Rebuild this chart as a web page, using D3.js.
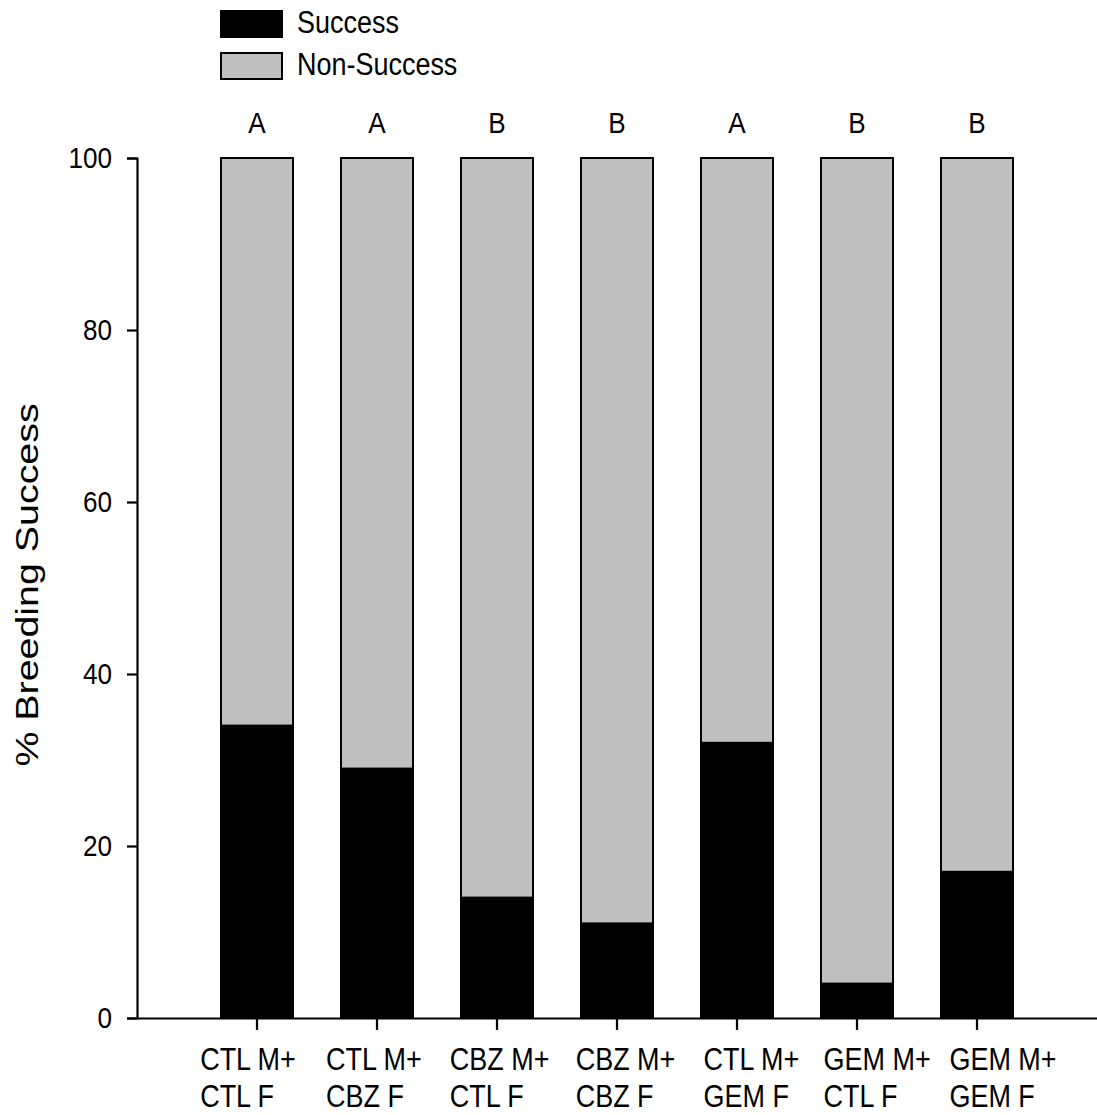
<!DOCTYPE html>
<html>
<head>
<meta charset="utf-8">
<script src="https://cdn.jsdelivr.net/npm/d3@7"></script>
<style>
  html, body { margin: 0; padding: 0; background: #fff; }
  svg { display: block; }
  text { font-family: "Liberation Sans", Arial, sans-serif; fill: #000; }
</style>
</head>
<body>
<svg id="chart" width="1097" height="1115"></svg>
<script>
// Pairing groups (male + female treatment)
const groupLine1 = ["CTL M+", "CTL M+", "CBZ M+", "CBZ M+", "CTL M+", "GEM M+", "GEM M+"];
const groupLine2 = ["CTL F", "CBZ F", "CTL F", "CBZ F", "GEM F", "CTL F", "GEM F"];
const categories = groupLine1.map((d, i) => d + " " + groupLine2[i]);

// Percent of pairs with / without breeding success
const successValues = [34, 29, 14, 11, 32, 4, 17];
const nonSuccessValues = [66, 71, 86, 89, 68, 96, 83];

// Statistical grouping letters
const sigLetters = ["A", "A", "B", "B", "A", "B", "B"];

const yTicks = [0, 20, 40, 60, 80, 100];
const seriesNames = ["Success", "Non-Success"];
const seriesColors = ["#000000", "#c0c0c0"];

const svg = d3.select("#chart");
const SX = 0.87;   // narrow letterforms

const x = d3.scaleBand()
  .domain(categories)
  .range([137, 1097])
  .paddingInner(0.4)
  .paddingOuter(0.7);

const y = d3.scaleLinear().domain([0, 100]).range([1018, 158]);

// positions of the two-line group labels below the axis
const xLabel = d3.scalePoint().domain(categories).range([248, 1003]);

// stacked data
const rows = categories.map((c, i) => ({
  cat: c,
  Success: successValues[i],
  "Non-Success": nonSuccessValues[i]
}));
const stacked = d3.stack().keys(seriesNames)(rows);

// bars
svg.append("g")
  .selectAll("g")
  .data(stacked)
  .join("g")
  .attr("fill", (d, i) => seriesColors[i])
  .selectAll("rect")
  .data(d => d)
  .join("rect")
  .attr("x", d => x(d.data.cat))
  .attr("width", x.bandwidth())
  .attr("y", d => y(d[1]))
  .attr("height", d => y(d[0]) - y(d[1]))
  .attr("stroke", "#000")
  .attr("stroke-width", 2);

// y axis
const yAxis = svg.append("g")
  .attr("transform", "translate(137,0)")
  .call(d3.axisLeft(y).tickValues(yTicks).tickSize(10).tickPadding(15).tickFormat(d3.format("d")));
yAxis.select(".domain").attr("stroke", "#000").attr("stroke-width", 2.2);
yAxis.selectAll(".tick line").attr("stroke", "#000").attr("stroke-width", 2.2);
yAxis.selectAll(".tick text")
  .attr("font-size", 30)
  .attr("font-family", "Liberation Sans, Arial, sans-serif")
  .attr("x", -25 / SX)
  .attr("transform", `scale(${SX},1)`);

// x axis
const xAxis = svg.append("g")
  .attr("transform", "translate(0,1018)")
  .call(d3.axisBottom(x).tickSize(12).tickSizeOuter(0).tickFormat(""));
xAxis.select(".domain").attr("stroke", "#000").attr("stroke-width", 2.2);
xAxis.selectAll(".tick line").attr("stroke", "#000").attr("stroke-width", 2.2);

// two-line group labels, both lines left aligned
const labelG = svg.append("g")
  .selectAll("g")
  .data(categories)
  .join("g")
  .attr("transform", d => `translate(${xLabel(d)},0) scale(${SX},1)`);
labelG.each(function (d, i) {
  const g = d3.select(this);
  const t1 = g.append("text").attr("font-size", 31).attr("y", 1070).text(groupLine1[i]);
  const w = t1.node().getComputedTextLength();
  t1.attr("x", -w / 2);
  g.append("text").attr("font-size", 31).attr("y", 1107).attr("x", -w / 2).text(groupLine2[i]);
});

// significance letters
svg.append("g")
  .selectAll("text")
  .data(categories)
  .join("text")
  .attr("transform", d => `translate(${x(d) + x.bandwidth() / 2},133) scale(${SX},1)`)
  .attr("text-anchor", "middle")
  .attr("font-size", 30)
  .text((d, i) => sigLetters[i]);

// y axis title
svg.append("text")
  .attr("transform", `translate(38,585) rotate(-90) scale(1.27,1)`)
  .attr("text-anchor", "middle")
  .attr("font-size", 31)
  .text("% Breeding Success");

// legend
const legend = svg.append("g");
const legendRows = legend.selectAll("g")
  .data(seriesNames)
  .join("g")
  .attr("transform", (d, i) => `translate(221,${11 + i * 42})`);
legendRows.append("rect")
  .attr("width", 61)
  .attr("height", 26)
  .attr("fill", (d, i) => seriesColors[i])
  .attr("stroke", "#000")
  .attr("stroke-width", 2);
legendRows.append("text")
  .attr("transform", `translate(76,22) scale(${SX},1)`)
  .attr("font-size", 31)
  .text(d => d);
</script>
</body>
</html>
